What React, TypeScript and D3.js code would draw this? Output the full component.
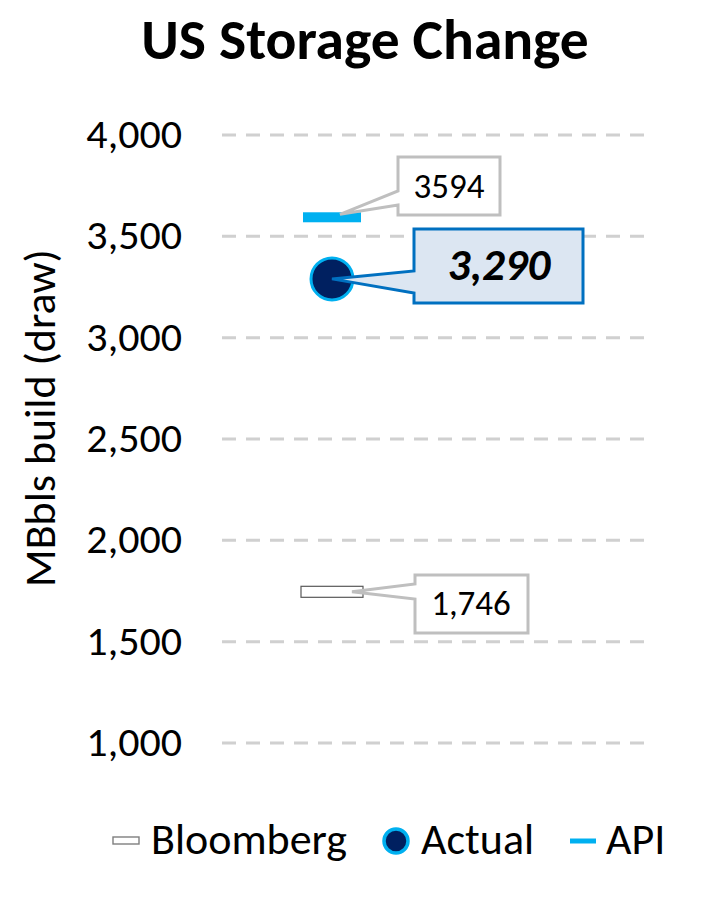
import React from "react";
import * as d3 from "d3";

const categories = ["Week"];
const bloomberg = [1746];
const actual = [3290];
const api = [3594];
const yTicks = [1000, 1500, 2000, 2500, 3000, 3500, 4000];
const legendLabels = ["Bloomberg", "Actual", "API"];
const title = "US Storage Change";
const yTitle = "MBbls build (draw)";

const W = 705, H = 912;
const FONT = "Carlito, Calibri, Lato, sans-serif";

function callout(tipX: number, tipY: number, bx: number, by: number, bw: number, bh: number, w1: number, w2: number) {
  return `M${bx},${by} L${bx + bw},${by} L${bx + bw},${by + bh} L${bx},${by + bh} L${bx},${w2} L${tipX},${tipY} L${bx},${w1} Z`;
}

export default function App() {
  const y = d3.scaleLinear().domain([1000, 4000]).range([743, 135]);
  const x = d3.scaleBand().domain(categories).range([222, 442]).padding(0.0);
  const cx = (x(categories[0]) as number) + x.bandwidth() / 2;
  const fmt = d3.format(",");

  const apiY = y(api[0]);
  const actY = y(actual[0]);
  const blY = y(bloomberg[0]);

  return (
    <svg width={W} height={H} style={{ display: "block", position: "absolute", left: 0, top: 0 }} fontFamily={FONT}>
      <rect width={W} height={H} fill="#fff" />
      <text x={365} y={59} textAnchor="middle" fontSize={57.5} fontWeight="bold" fill="#000">{title}</text>
      {yTicks.map((t) => (
        <g key={t}>
          <line x1={222} x2={652} y1={y(t)} y2={y(t)} stroke="#d0d0d0" strokeWidth={3} strokeDasharray="14,10" />
          <text x={182} y={y(t) + 13} textAnchor="end" fontSize={42} fill="#000">{fmt(t)}</text>
        </g>
      ))}
      <text transform={`translate(55,${418}) rotate(-90)`} textAnchor="middle" fontSize={44} fill="#000">{yTitle}</text>

      {/* Bloomberg */}
      <rect x={cx - 31} y={blY - 5.5} width={62} height={11} fill="#fff" stroke="#595959" strokeWidth={1.2} />
      {/* API */}
      <rect x={cx - 29} y={apiY - 5} width={58} height={10} fill="#00b0f0" />
      {/* Actual */}
      <circle cx={cx} cy={actY} r={21} fill="#002060" stroke="#00b0f0" strokeWidth={3} />

      {/* callouts */}
      <path d={callout(cx + 8, apiY - 3, 398, 157, 102, 58, 191, 205)} fill="#fff" stroke="#bfbfbf" strokeWidth={3} />
      <text x={449} y={198} textAnchor="middle" fontSize={35} fill="#000">{String(api[0])}</text>

      <path d={callout(cx, actY, 414, 229, 169, 74, 271, 293)} fill="#dce6f2" stroke="#0070c0" strokeWidth={3} />
      <text x={499} y={280} textAnchor="middle" fontSize={45} fontWeight="bold" fontStyle="italic" fill="#000">{fmt(actual[0])}</text>

      <path d={callout(cx + 20, blY, 415, 575, 113, 58, 584, 599)} fill="#fff" stroke="#bfbfbf" strokeWidth={3} />
      <text x={471} y={615} textAnchor="middle" fontSize={35} fill="#000">{fmt(bloomberg[0])}</text>

      {/* legend */}
      <rect x={113} y={837} width={26} height={7} fill="#fff" stroke="#7f7f7f" strokeWidth={1.4} />
      <text x={151} y={854} fontSize={44} fill="#000">{legendLabels[0]}</text>
      <circle cx={396} cy={841} r={12} fill="#002060" stroke="#00b0f0" strokeWidth={3.5} />
      <text x={421} y={854} fontSize={44} fill="#000">{legendLabels[1]}</text>
      <line x1={570} x2={596} y1={841} y2={841} stroke="#00b0f0" strokeWidth={5} />
      <text x={606} y={854} fontSize={44} fill="#000">{legendLabels[2]}</text>
    </svg>
  );
}
